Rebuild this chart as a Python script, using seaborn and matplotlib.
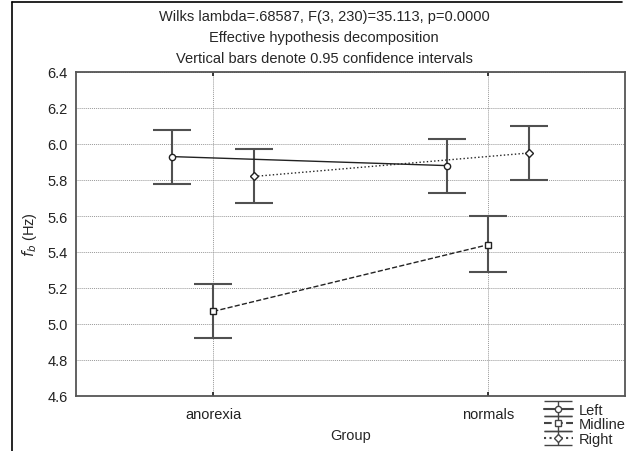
import numpy as np
import pandas as pd
import matplotlib
matplotlib.use("Agg")
import matplotlib.pyplot as plt
from matplotlib.lines import Line2D
import seaborn as sns

groups = ["anorexia", "normals"]
series = ["Left", "Midline", "Right"]
means = {
    "Left":    [5.93, 5.88],
    "Midline": [5.07, 5.44],
    "Right":   [5.82, 5.95],
}
ci_low = {
    "Left":    [5.78, 5.73],
    "Midline": [4.92, 5.29],
    "Right":   [5.67, 5.80],
}
ci_high = {
    "Left":    [6.08, 6.03],
    "Midline": [5.22, 5.60],
    "Right":   [5.97, 6.10],
}
offsets = {"Left": -0.15, "Midline": 0.0, "Right": 0.15}
styles = {"Left": "-", "Midline": "--", "Right": ":"}
markers = {"Left": "o", "Midline": "s", "Right": "D"}

sns.set_theme(style="white")
plt.rcParams["font.family"] = ["Liberation Sans", "DejaVu Sans"]

rows = []
for s in series:
    for i, g in enumerate(groups):
        rows.append({"series": s, "group": g, "x": i + offsets[s], "mean": means[s][i],
                     "lo": ci_low[s][i], "hi": ci_high[s][i]})
df = pd.DataFrame(rows)

fig = plt.figure(figsize=(6.31, 4.52), dpi=100)
ax = fig.add_axes([76/631, 1-397/452, (625-76)/631, (397-73)/452])

FS = 10.5
line_col = "#222222"
err_col = "#505050"
handles = []
for s in series:
    d = df[df.series == s]
    sns.lineplot(data=d, x="x", y="mean", ax=ax, color=line_col, linestyle=styles[s],
                 linewidth=1.0, marker=markers[s], markersize=4.5 if s != "Right" else 4,
                 markerfacecolor="white", markeredgecolor=line_col, markeredgewidth=1.0,
                 legend=False, zorder=3)
    ax.errorbar(d["x"], d["mean"], yerr=[d["mean"] - d["lo"], d["hi"] - d["mean"]],
                fmt="none", ecolor=err_col, elinewidth=1.5, capsize=14, capthick=1.5, zorder=2)
    h = ax.errorbar([np.nan], [np.nan], yerr=[[0.1], [0.1]], fmt=markers[s],
                    linestyle=styles[s], color="#444444", ecolor="#444444", markersize=4.5,
                    markerfacecolor="white", elinewidth=1.0, capsize=10, capthick=1.0)
    handles.append(h)

ax.set_xlim(-0.5, 1.5)
ax.set_ylim(4.6, 6.4)
ax.set_xticks([0, 1])
ax.set_xticklabels(groups)
ax.set_yticks(np.round(np.arange(4.6, 6.41, 0.2), 1))
ax.set_yticklabels([f"{v:.1f}" for v in np.arange(4.6, 6.41, 0.2)])
ax.grid(True, color="#999999", linestyle=(0, (1, 1)), linewidth=0.7)
ax.tick_params(axis="both", direction="in", length=3, labelsize=FS, colors="#222222",
               top=True, bottom=True, left=False)
ax.tick_params(axis="x", pad=8)
ax.tick_params(axis="y", pad=6)
for sp in ax.spines.values():
    sp.set_color("#555555")
    sp.set_linewidth(1.3)

ax.set_xlabel("Group", fontsize=FS, labelpad=5)
ax.set_ylabel(r"$f_b$ (Hz)", fontsize=FS, labelpad=6)

fig.text(324/631, 1-17/452, "Wilks lambda=.68587, F(3, 230)=35.113, p=0.0000",
         ha="center", va="center", fontsize=FS)
fig.text(324/631, 1-38/452, "Effective hypothesis decomposition",
         ha="center", va="center", fontsize=FS)
fig.text(324/631, 1-59/452, "Vertical bars denote 0.95 confidence intervals",
         ha="center", va="center", fontsize=FS)

fig.legend(handles, series, loc="upper left", bbox_to_anchor=(535/631, 1-395/452),
           frameon=False, fontsize=FS, handlelength=2.0, labelspacing=0.05,
           borderpad=0.1, handletextpad=0.4)

fig.add_artist(Line2D([12/631, 12/631], [0, 1-3/452], color="black", linewidth=1.2,
                      transform=fig.transFigure))
fig.add_artist(Line2D([12/631, 622/631], [1-3/452, 1-3/452], color="black", linewidth=1.2,
                      transform=fig.transFigure))

fig.savefig("out.png", dpi=100)
